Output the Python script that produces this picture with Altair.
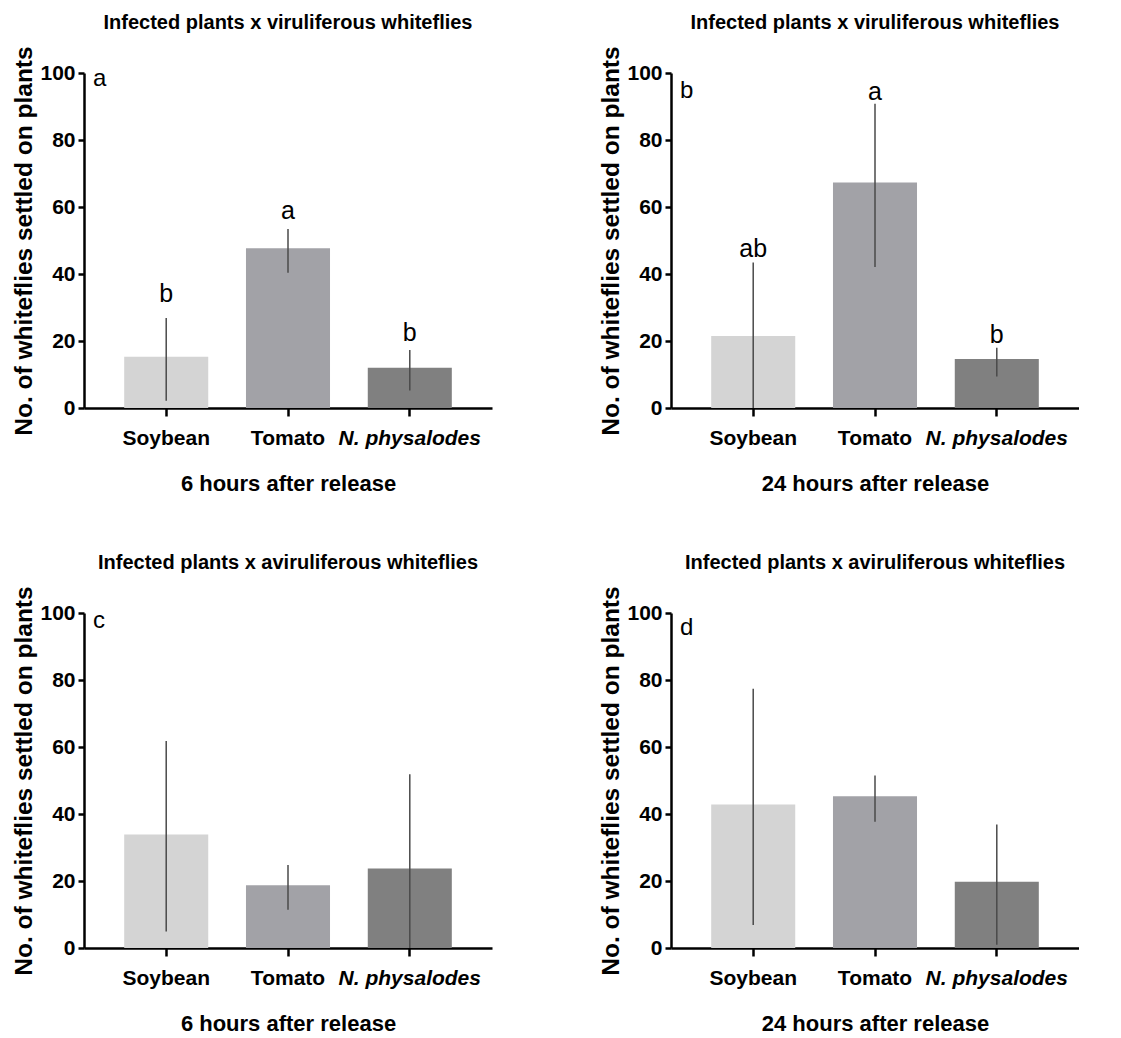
import altair as alt
import pandas as pd

categories = ["Soybean", "Tomato", "N. physalodes"]
bar_colors = ["#d4d4d4", "#a2a2a7", "#808080"]

# panel a: infected plants x viruliferous whiteflies, 6 h
a_mean = [15.3, 47.7, 12.0]
a_low = [2.2, 40.4, 5.2]
a_high = [26.9, 53.4, 17.3]
a_letters = ["b", "a", "b"]
a_letter_y = [31.5, 56.5, 20.0]

# panel b: infected plants x viruliferous whiteflies, 24 h
b_mean = [21.5, 67.3, 14.6]
b_low = [0.0, 42.1, 9.4]
b_high = [43.4, 90.8, 18.0]
b_letters = ["ab", "a", "b"]
b_letter_y = [45.0, 92.0, 19.3]

# panel c: infected plants x aviruliferous whiteflies, 6 h
c_mean = [33.9, 18.7, 23.7]
c_low = [4.9, 11.4, 0.0]
c_high = [61.8, 24.8, 51.9]

# panel d: infected plants x aviruliferous whiteflies, 24 h
d_mean = [42.8, 45.3, 19.8]
d_low = [6.9, 37.7, 1.0]
d_high = [77.4, 51.5, 36.9]

panel_titles = ["Infected plants x viruliferous whiteflies",
                "Infected plants x viruliferous whiteflies",
                "Infected plants x aviruliferous whiteflies",
                "Infected plants x aviruliferous whiteflies"]
x_titles = ["6 hours after release", "24 hours after release",
            "6 hours after release", "24 hours after release"]
panel_tags = ["a", "b", "c", "d"]
panel_tag_y = [96.0, 92.5, 95.5, 93.5]
y_title = "No. of whiteflies settled on plants"
y_ticks = [0, 20, 40, 60, 80, 100]

FONT = "'Liberation Sans', Arial, sans-serif"

W, H = 408, 335


def ychan(field):
    return alt.Y(
        f"{field}:Q",
        scale=alt.Scale(domain=[0, 100], nice=False, zero=True),
        title=y_title,
        axis=alt.Axis(values=y_ticks, tickSize=6, labelPadding=3,
                      labelFont=FONT, labelFontSize=21, labelFontWeight="bold",
                      titleFont=FONT, titleFontSize=24.5, titleFontWeight="bold",
                      titlePadding=3, grid=False),
    )


def xchan(xtitle):
    return alt.X(
        "cat:N",
        sort=categories,
        title=xtitle,
        scale=alt.Scale(paddingInner=0.31, paddingOuter=0.33),
        axis=alt.Axis(labelAngle=0, tickSize=8, labelPadding=11,
                      labelFont=FONT, labelFontSize=21, labelFontWeight="bold",
                      labelFontStyle={"expr": "datum.value == 'N. physalodes' ? 'italic' : 'normal'"},
                      titleFont=FONT, titleFontSize=22, titleFontWeight="bold",
                      titlePadding=25, grid=False),
    )


def panel(mean, low, high, letters, letter_y, title, xtitle, tag, tag_y):
    df = pd.DataFrame({"cat": categories, "mean": mean, "low": low, "high": high})
    x = xchan(xtitle)
    bars = alt.Chart(df).mark_bar().encode(
        x=x,
        y=ychan("mean"),
        color=alt.Color("cat:N", scale=alt.Scale(domain=categories, range=bar_colors), legend=None),
    )
    err = alt.Chart(df).mark_rule(color="#4a4a4a", strokeWidth=1.5).encode(
        x=x, y=ychan("low"), y2="high:Q"
    )
    layers = [bars, err]
    if letters:
        ldf = pd.DataFrame({"cat": categories, "lab": letters, "ly": letter_y})
        layers.append(
            alt.Chart(ldf).mark_text(font=FONT, fontSize=25, baseline="alphabetic",
                                     align="center", color="black").encode(
                x=x, y=ychan("ly"), text="lab:N")
        )
    tdf = pd.DataFrame({"tag": [tag], "ty": [tag_y]})
    layers.append(
        alt.Chart(tdf).mark_text(font=FONT, fontSize=24, baseline="alphabetic",
                                 align="left", color="black").encode(
            x=alt.value(9), y=ychan("ty"), text="tag:N")
    )
    return alt.layer(*layers).properties(
        width=W, height=H,
        title=alt.TitleParams(title, font=FONT, fontSize=20, fontWeight="bold",
                              anchor="middle", offset=13, color="black"),
    )


pa = panel(a_mean, a_low, a_high, a_letters, a_letter_y, panel_titles[0], x_titles[0], panel_tags[0], panel_tag_y[0])
pb = panel(b_mean, b_low, b_high, b_letters, b_letter_y, panel_titles[1], x_titles[1], panel_tags[1], panel_tag_y[1])
pc = panel(c_mean, c_low, c_high, None, None, panel_titles[2], x_titles[2], panel_tags[2], panel_tag_y[2])
pd_ = panel(d_mean, d_low, d_high, None, None, panel_titles[3], x_titles[3], panel_tags[3], panel_tag_y[3])

chart = alt.vconcat(
    alt.hconcat(pa, pb, spacing=106),
    alt.hconcat(pc, pd_, spacing=106),
    spacing=58,
).properties(
    padding={"left": 3, "top": 4, "right": 0, "bottom": 0}
).configure_view(stroke=None).configure_axis(
    domainColor="black", domainWidth=2.5, tickColor="black", tickWidth=2.5,
    labelColor="black", titleColor="black",
)

chart.save("out.html", embed_options={"renderer": "svg", "actions": False})
